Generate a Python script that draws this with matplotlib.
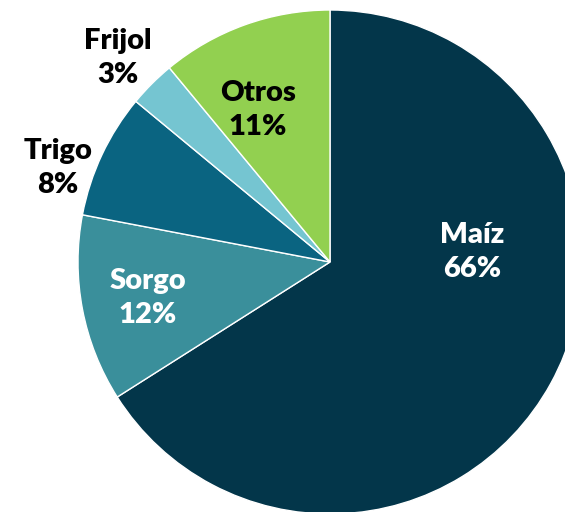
import matplotlib
matplotlib.use("Agg")
import matplotlib.pyplot as plt

cultivos = ["Maíz", "Sorgo", "Trigo", "Frijol", "Otros"]
porcentajes = [66, 12, 8, 3, 11]
colores = ["#03364A", "#3A8F9B", "#0A6481", "#75C5D1", "#92D050"]
color_texto = ["white", "white", "black", "black", "black"]

# posiciones de etiquetas (unidades del radio)
pos_etiquetas = [(0.563, 0.04), (-0.722, -0.143), (-1.079, 0.373),
                 (-0.841, 0.81), (-0.286, 0.603)]

fig = plt.figure(figsize=(5.65, 5.12), dpi=100)
ax = fig.add_axes([0, 0, 1, 1])

ax.pie(porcentajes, colors=colores, startangle=90, counterclock=False,
       radius=1, center=(0, 0),
       wedgeprops=dict(edgecolor="white", linewidth=1))

for nombre, pct, col, (x, y) in zip(cultivos, porcentajes, color_texto, pos_etiquetas):
    ax.text(x, y, f"{nombre}\n{pct}%", ha="center", va="center",
            color=col, fontsize=21, fontweight="heavy", family="Lato",
            linespacing=1.4)

r = 252
ax.set_xlim(-330 / r, (565 - 330) / r)
ax.set_ylim(-(512 - 262) / r, 262 / r)
ax.set_aspect("auto")
ax.axis("off")

fig.savefig("out.png", dpi=100)
